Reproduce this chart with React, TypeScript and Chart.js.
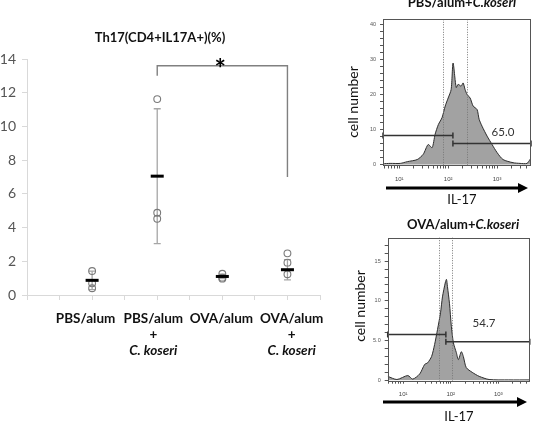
import React, { useEffect, useRef } from "react";
import { Chart, registerables } from "chart.js";

Chart.register(...registerables);

// ---------- Th17 (CD4+IL17A+) frequencies, % ----------
const groupLabels = [
  ["PBS/alum"],
  ["PBS/alum", "+", "C. koseri"],
  ["OVA/alum"],
  ["OVA/alum", "+", "C. koseri"],
];
const groupX = [2, 4, 6, 8];
// label anchors on the category axis (text boxes sit slightly off the marks)
const groupLabelAt = [1.8, 3.88, 5.97, 8.13];
const pbsAlum = [1.42, 0.69, 0.4];
const pbsAlumKoseri = [11.62, 4.88, 4.52];
const ovaAlum = [1.26, 1.03, 0.97];
const ovaAlumKoseri = [2.47, 1.92, 1.23];
const groupMeans = [0.87, 7.05, 1.1, 1.5];
const groupSD = [0.55, 4.0, 0.13, 0.6];
const th17Ticks = [0, 2, 4, 6, 8, 10, 12, 14];
const sigFrom = 4;
const sigTo = 8;
const sigTop = 13.6;
const sigLeftEnd = 13.0;
const sigRightEnd = 7.0;

// ---------- IL-17 histograms ----------
const pbsKoseriIL17 = [4.65, 6.5, 10.5, 14.6, 23.3, 30.9, 39, 47, 54, 63, 75, 87, 100, 115, 126, 146, 160, 184, 202, 222, 244, 281, 324, 390, 430, 494, 625, 790, 1000, 1325, 2120, 2950, 4090, 4710, 4940];
const pbsKoseriCounts = [0.2, 0.3, 0.3, 0.8, 1.4, 2.9, 5.7, 4.8, 8.6, 11.4, 13.4, 16.7, 19, 21.4, 29, 22, 22.9, 22.4, 23.3, 21.4, 20, 19, 16.7, 15.7, 12.9, 10.9, 8.1, 5.7, 3.4, 1.4, 0.5, 0.3, 0.3, 1.4, 1.8];
const pbsKoseriMarkers = [78, 244];
const pbsKoseriGates = [
  [4.65, 125, 8.3],
  [125, 4940, 6.0],
];
const pbsKoseriPercent = "65.0";
const pbsKoseriPercentAt = [1320, 9.1];
const pbsKoseriYTicks = [0, 10, 20, 30, 40];
const pbsKoseriYLabels = ["0", "10", "20", "30", "40"];

const ovaKoseriIL17 = [4.73, 7.4, 12.5, 15.9, 22.3, 28.3, 32.7, 39.6, 45.8, 52.8, 61, 67, 77.6, 81.4, 85.3, 94, 103, 114, 131, 145, 167, 184, 212, 283, 396, 640, 1660, 4580];
const ovaKoseriCounts = [0.5, 0.1, 0.6, 0.15, 0.8, 2.0, 2.2, 3.0, 4.5, 6.4, 8.5, 10.5, 12.4, 12.7, 11.8, 9.7, 6.8, 4.7, 3.5, 2.6, 3.6, 3.0, 1.6, 1.0, 0.5, 0.1, 0.05, 0.05];
const ovaKoseriMarkers = [57, 106];
const ovaKoseriGates = [
  [4.73, 79, 5.75],
  [79, 4580, 4.84],
];
const ovaKoseriPercent = "54.7";
const ovaKoseriPercentAt = [500, 7.2];
const ovaKoseriYTicks = [0, 5, 10, 15];
const ovaKoseriYLabels = ["0", "5.0", "10", "15"];

const decadeLabels: Record<number, string> = { 10: "10\u00b9", 100: "10\u00b2", 1000: "10\u00b3" };

const FONT = "Lato, 'Open Sans', sans-serif";
const SMALL = "'Liberation Sans', Arial, sans-serif";

function ChartCanvas({ build, width, height, left, top }: any) {
  const ref = useRef<HTMLCanvasElement>(null);
  useEffect(() => {
    const chart = new Chart(ref.current as HTMLCanvasElement, build());
    return () => chart.destroy();
  }, []);
  return (
    <canvas
      ref={ref}
      width={width}
      height={height}
      style={{ position: "absolute", left, top, width, height }}
    />
  );
}

// ---------- dot plot ----------
function th17Config() {
  const groups = [pbsAlum, pbsAlumKoseri, ovaAlum, ovaAlumKoseri];
  const samplePoints = groups.flatMap((vals, i) => vals.map((v) => ({ x: groupX[i], y: v })));
  const meanPoints = groupMeans.map((m, i) => ({ x: groupX[i], y: m }));
  const bracketPoints = [
    { x: sigFrom, y: sigLeftEnd },
    { x: sigFrom, y: sigTop },
    { x: sigTo, y: sigTop },
    { x: sigTo, y: sigRightEnd },
  ];

  const decor = {
    id: "th17Decor",
    beforeDatasetsDraw(chart: any) {
      const { ctx, scales } = chart;
      const { x, y } = scales;
      ctx.save();
      ctx.strokeStyle = "#a6a6a6";
      ctx.lineWidth = 1.3;
      groupMeans.forEach((m, i) => {
        const px = x.getPixelForValue(groupX[i]);
        const t = y.getPixelForValue(m + groupSD[i]);
        const b = y.getPixelForValue(m - groupSD[i]);
        ctx.beginPath();
        ctx.moveTo(px, t);
        ctx.lineTo(px, b);
        ctx.moveTo(px - 3.5, t);
        ctx.lineTo(px + 3.5, t);
        ctx.moveTo(px - 3.5, b);
        ctx.lineTo(px + 3.5, b);
        ctx.stroke();
      });
      ctx.restore();
    },
    afterDraw(chart: any) {
      const { ctx, chartArea: a, scales } = chart;
      const { x, y } = scales;
      ctx.save();
      ctx.fillStyle = "#111";
      ctx.textAlign = "center";
      ctx.textBaseline = "middle";
      ctx.font = `bold 13px ${FONT}`;
      ctx.fillText("Th17(CD4+IL17A+)(%)", a.left + 133, a.top - 21);

      ctx.textBaseline = "alphabetic";
      ctx.font = `bold 27px ${FONT}`;
      ctx.fillStyle = "#000";
      ctx.fillText("*", x.getPixelForValue((sigFrom + sigTo) / 2) - 2, y.getPixelForValue(sigTop) + 12);

      ctx.textBaseline = "middle";
      ctx.fillStyle = "#111";
      groupLabels.forEach((lines, i) => {
        const px = x.getPixelForValue(groupLabelAt[i]);
        lines.forEach((t, j) => {
          ctx.font = `${t.startsWith("C.") ? "italic " : ""}bold 13.5px ${FONT}`;
          ctx.fillText(t, px, a.bottom + 24 + j * 16);
        });
      });
      ctx.restore();
    },
  };

  return {
    type: "scatter",
    data: {
      datasets: [
        {
          label: "mean",
          data: meanPoints,
          pointStyle: "line",
          pointRadius: 6.5,
          pointBorderWidth: 3,
          pointBorderColor: "#000",
          pointBackgroundColor: "#000",
        },
        {
          label: "mice",
          data: samplePoints,
          pointStyle: "circle",
          pointRadius: 3.4,
          pointBorderWidth: 1.1,
          pointBorderColor: "#7a7a7a",
          pointBackgroundColor: "rgba(255,255,255,0)",
        },
        {
          type: "line",
          label: "p < 0.05",
          data: bracketPoints,
          borderColor: "#808080",
          borderWidth: 1.4,
          pointRadius: 0,
          tension: 0,
          fill: false,
        },
      ],
    },
    options: {
      animation: false,
      responsive: false,
      events: [],
      layout: { padding: { top: 59, right: 10, left: 0, bottom: 0 } },
      plugins: { legend: { display: false }, tooltip: { enabled: false } },
      scales: {
        x: {
          type: "linear",
          min: 0,
          max: 9,
          afterBuildTicks: (s: any) => {
            s.ticks = [0, 1, 2, 3, 4, 5, 6, 7, 8, 9].map((v) => ({ value: v }));
          },
          ticks: { display: false },
          grid: { drawOnChartArea: false, tickLength: 5, color: "#d9d9d9" },
          border: { color: "#d9d9d9" },
          afterFit: (s: any) => {
            s.height = 85;
          },
        },
        y: {
          type: "linear",
          min: 0,
          max: 14,
          afterBuildTicks: (s: any) => {
            s.ticks = th17Ticks.map((v) => ({ value: v }));
          },
          ticks: { font: { family: FONT, size: 14 }, color: "#555", padding: 6 },
          grid: { drawOnChartArea: false, tickLength: 5, color: "#d9d9d9" },
          border: { color: "#d9d9d9" },
          afterFit: (s: any) => {
            s.width = 27;
          },
        },
      },
    },
    plugins: [decor],
  };
}

// ---------- flow histogram ----------
function flowConfig(p: any) {
  const points = p.il17.map((v: number, i: number) => ({ x: v, y: p.counts[i] }));
  const xTicks: number[] = [];
  for (let e = 0; e <= 4; e++) {
    for (let k = 1; k <= 9; k++) {
      const v = k * Math.pow(10, e);
      if (v >= p.xMin && v <= p.xMax) xTicks.push(v);
    }
  }
  const yTicks: number[] = [];
  for (let v = 0; v <= p.yMax; v += p.yMinorStep) yTicks.push(v);

  const decor = {
    id: "flowDecor",
    afterDatasetsDraw(chart: any) {
      const { ctx, chartArea: a, scales } = chart;
      const { x, y } = scales;
      ctx.save();
      // marker lines
      ctx.strokeStyle = "#777";
      ctx.lineWidth = 1;
      ctx.setLineDash([1, 1.5]);
      p.markers.forEach((m: number) => {
        const px = Math.round(x.getPixelForValue(m)) + 0.5;
        ctx.beginPath();
        ctx.moveTo(px, a.top);
        ctx.lineTo(px, a.bottom);
        ctx.stroke();
      });
      ctx.setLineDash([]);
      // gates
      ctx.strokeStyle = "#333";
      ctx.lineWidth = 1.5;
      p.gates.forEach((g: number[]) => {
        const x1 = x.getPixelForValue(g[0]);
        const x2 = x.getPixelForValue(g[1]);
        const py = y.getPixelForValue(g[2]);
        ctx.beginPath();
        ctx.moveTo(x1, py);
        ctx.lineTo(x2, py);
        ctx.moveTo(x1, py - 3);
        ctx.lineTo(x1, py + 3);
        ctx.moveTo(x2, py - 3);
        ctx.lineTo(x2, py + 3);
        ctx.stroke();
      });
      // frame
      ctx.strokeStyle = "#555";
      ctx.lineWidth = 1;
      ctx.strokeRect(Math.round(a.left) + 0.5, Math.round(a.top) + 0.5, Math.round(a.width) - 1, Math.round(a.height));
      // percentage
      ctx.fillStyle = "#333";
      ctx.font = `11.5px ${FONT}`;
      ctx.textAlign = "center";
      ctx.textBaseline = "middle";
      ctx.fillText(p.percent, x.getPixelForValue(p.percentAt[0]), y.getPixelForValue(p.percentAt[1]));
      ctx.restore();
    },
    afterDraw(chart: any) {
      const { ctx, chartArea: a } = chart;
      ctx.save();
      ctx.fillStyle = "#111";
      // title with italic species name
      ctx.textBaseline = "alphabetic";
      const plain = `bold 13px ${FONT}`;
      const ital = `italic bold 13px ${FONT}`;
      ctx.font = plain;
      const w1 = ctx.measureText(p.title).width;
      ctx.font = ital;
      const w2 = ctx.measureText(p.titleItalic).width;
      const start = p.titleX - (w1 + w2) / 2;
      ctx.textAlign = "left";
      ctx.font = plain;
      ctx.fillText(p.title, start, p.titleY);
      ctx.font = ital;
      ctx.fillText(p.titleItalic, start + w1, p.titleY);

      // axis titles
      ctx.textAlign = "center";
      ctx.textBaseline = "middle";
      ctx.font = `14px ${FONT}`;
      ctx.save();
      ctx.translate(p.yTitleX, p.yTitleY);
      ctx.rotate(-Math.PI / 2);
      ctx.fillText("cell number", 0, 0);
      ctx.restore();
      ctx.font = `13px ${FONT}`;
      ctx.fillText("IL-17", p.il17X, a.bottom + p.il17Dy);

      // arrow
      const ay = a.bottom + p.arrowDy;
      ctx.strokeStyle = "#000";
      ctx.fillStyle = "#000";
      ctx.lineWidth = 3;
      ctx.beginPath();
      ctx.moveTo(p.arrowX1, ay);
      ctx.lineTo(p.arrowX2 - 8, ay);
      ctx.stroke();
      ctx.beginPath();
      ctx.moveTo(p.arrowX2, ay);
      ctx.lineTo(p.arrowX2 - 10, ay - 5);
      ctx.lineTo(p.arrowX2 - 10, ay + 5);
      ctx.closePath();
      ctx.fill();
      ctx.restore();
    },
  };

  return {
    type: "line",
    data: {
      datasets: [
        {
          label: "IL-17",
          data: points,
          fill: "origin",
          backgroundColor: "#a2a2a2",
          borderColor: "#2e2e2e",
          borderWidth: 1,
          pointRadius: 0,
          tension: 0.25,
        },
      ],
    },
    options: {
      animation: false,
      responsive: false,
      events: [],
      layout: { padding: { top: p.padTop, right: 3, left: 0, bottom: 0 } },
      plugins: { legend: { display: false }, tooltip: { enabled: false } },
      scales: {
        x: {
          type: "logarithmic",
          min: p.xMin,
          max: p.xMax,
          afterBuildTicks: (s: any) => {
            s.ticks = xTicks.map((v) => ({ value: v }));
          },
          ticks: {
            autoSkip: false,
            maxRotation: 0,
            minRotation: 0,
            padding: 7,
            font: { family: SMALL, size: 6 },
            color: "#444",
            callback: (v: number) => decadeLabels[v] || "",
          },
          grid: { drawOnChartArea: false, tickLength: 3, color: "#555" },
          border: { display: false },
          afterFit: (s: any) => {
            s.height = p.xAxisHeight;
          },
        },
        y: {
          type: "linear",
          min: p.yMin,
          max: p.yMax,
          afterBuildTicks: (s: any) => {
            s.ticks = yTicks.map((v) => ({ value: v }));
          },
          ticks: {
            autoSkip: false,
            padding: 4,
            font: { family: SMALL, size: 5.5 },
            color: "#555",
            callback: (v: number) => {
              const i = p.yTickValues.indexOf(v);
              return i >= 0 ? p.yTickLabels[i] : "";
            },
          },
          grid: { drawOnChartArea: false, tickLength: 3, color: "#555" },
          border: { display: false },
          afterFit: (s: any) => {
            s.width = p.yAxisWidth;
          },
        },
      },
    },
    plugins: [decor],
  };
}

const topPanel = {
  title: "PBS/alum+",
  titleItalic: "C.koseri",
  il17: pbsKoseriIL17,
  counts: pbsKoseriCounts,
  xMin: 4.65,
  xMax: 4940,
  yMin: -0.3,
  yMax: 41.5,
  yMinorStep: 2,
  yTickValues: pbsKoseriYTicks,
  yTickLabels: pbsKoseriYLabels,
  markers: pbsKoseriMarkers,
  gates: pbsKoseriGates,
  percent: pbsKoseriPercent,
  percentAt: pbsKoseriPercentAt,
  padTop: 19.3,
  yAxisWidth: 43,
  xAxisHeight: 44.5,
  titleX: 122,
  titleY: 7,
  yTitleX: 13,
  yTitleY: 102,
  il17X: 122,
  il17Dy: 34.5,
  arrowX1: 46,
  arrowX2: 188,
  arrowDy: 22.5,
};

const bottomPanel = {
  title: "OVA/alum+",
  titleItalic: "C.koseri",
  il17: ovaKoseriIL17,
  counts: ovaKoseriCounts,
  xMin: 4.73,
  xMax: 4580,
  yMin: -0.05,
  yMax: 17.95,
  yMinorStep: 1,
  yTickValues: ovaKoseriYTicks,
  yTickLabels: ovaKoseriYLabels,
  markers: ovaKoseriMarkers,
  gates: ovaKoseriGates,
  percent: ovaKoseriPercent,
  percentAt: ovaKoseriPercentAt,
  padTop: 32.7,
  yAxisWidth: 47.7,
  xAxisHeight: 51.3,
  titleX: 123,
  titleY: 24,
  yTitleX: 20,
  yTitleY: 101,
  il17X: 119,
  il17Dy: 36,
  arrowX1: 43,
  arrowX2: 187,
  arrowDy: 21.3,
};

export default function App() {
  return (
    <div style={{ position: "absolute", left: 0, top: 0, width: 534, height: 432, background: "#fff", overflow: "hidden" }}>
      <ChartCanvas build={th17Config} width={330} height={380} left={0} top={0} />
      <ChartCanvas build={() => flowConfig(topPanel)} width={194} height={210} left={340} top={0} />
      <ChartCanvas build={() => flowConfig(bottomPanel)} width={194} height={227} left={340} top={205} />
    </div>
  );
}
